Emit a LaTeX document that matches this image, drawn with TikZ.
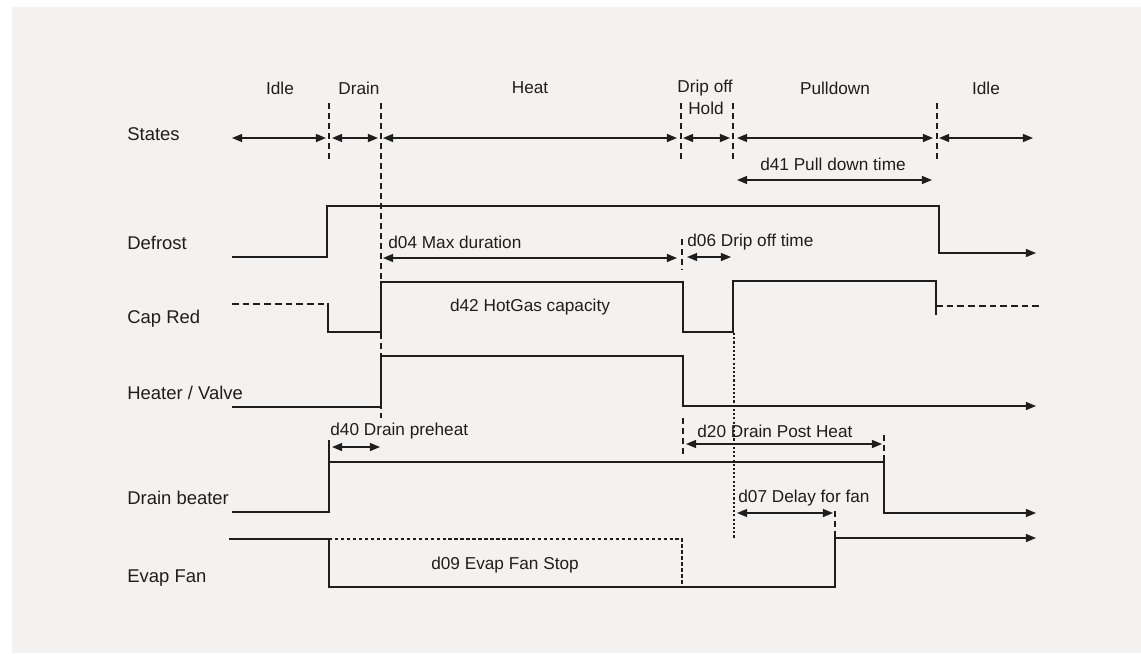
\documentclass[tikz,border=0pt]{standalone}
\usepackage{fontspec}
\setmainfont{Liberation Sans}
\usetikzlibrary{arrows.meta}

\definecolor{panel}{HTML}{F3F2F0}
\definecolor{ink}{HTML}{1E1E1E}

\tikzset{
  sig/.style={ink, line width=0.8pt},
  wave/.style={sig, -{Triangle[length=5.8pt,width=4.6pt]}},
  dimarr/.style={sig, {Triangle[length=5.8pt,width=4.6pt]}-{Triangle[length=5.8pt,width=4.6pt]}},
  sepline/.style={ink, line width=0.8pt, dash pattern=on 3.4pt off 2.3pt},
  fineline/.style={ink, line width=0.7pt, dash pattern=on 1.9pt off 1.5pt},
  lbl/.style={font=\fontsize{9.8}{11}\selectfont, text=ink, inner sep=0pt},
  sname/.style={font=\fontsize{10.5}{12}\selectfont, text=ink, inner sep=0pt, anchor=west},
}

\begin{document}
\begin{tikzpicture}[x=0.02cm, y=-0.02cm]

    \fill[white] (0,0) rectangle (1141,653);
    \fill[panel] (12,7) rectangle (1141,653);
    \useasboundingbox (0,0) rectangle (1141,653);

    % signal names
    \node[sname] (nstates) at (127,134) {States};
    \node[sname] (ndefrost) at (127,243) {Defrost};
    \node[sname] (ncapred) at (127,319) {Cap Red};
    \node[sname] (nheater) at (127,393) {Heater / Valve};
    \node[sname] (ndrain) at (127,498) {Drain beater};
    \node[sname] (nfan) at (127,578) {Evap Fan};

    % states
    \node[lbl] (sidle) at (280,88) {Idle};
    \node[lbl] (sdrain) at (359,88) {Drain};
    \node[lbl] (sheat) at (530,88) {Heat};
    \node[lbl] (sdrip) at (705,88) {Drip off};
    \node[lbl] (shold) at (706,108) {Hold};
    \node[lbl] (spull) at (835,88) {Pulldown};
    \node[lbl] (sidleb) at (986,88) {Idle};

    \draw[sepline] (329,103) -- (329,160);
    \draw[sepline] (381,103) -- (381,418);
    \draw[sepline] (681,103) -- (681,160);
    \draw[sepline] (733,103) -- (733,160);
    \draw[sepline] (937,103) -- (937,160);

    \draw[dimarr] (232,138) -- (326,138);
    \draw[dimarr] (332,138) -- (378,138);
    \draw[dimarr] (383,138) -- (677,138);
    \draw[dimarr] (683,138) -- (730,138);
    \draw[dimarr] (737,138) -- (933,138);
    \draw[dimarr] (939,138) -- (1033,138);

    \node[lbl] (td41) at (833,164) {d41 Pull down time};
    \draw[dimarr] (737,180) -- (932,180);

    % defrost
    \draw[wave] (232,257) -- (327,257) -- (327,206) -- (939,206) -- (939,253) -- (1036,253);
    \node[lbl, anchor=west] (td04) at (388,242) {d04 Max duration};
    \draw[dimarr] (383,258) -- (677,258);
    \draw[sepline] (682,239) -- (682,270);
    \node[lbl, anchor=west] (td06) at (687,242) {d06 Drip off time};
    \draw[dimarr] (687,257) -- (731,257);

    % cap red
    \draw[sig, dash pattern=on 3.8pt off 2.3pt] (232,304) -- (327,304);
    \draw[sig] (328,303) -- (328,332) -- (381,332) -- (381,282) -- (683,282) -- (683,332)
        -- (733,332) -- (733,281) -- (936,281) -- (936,315);
    \draw[sig, dash pattern=on 3.8pt off 2.3pt] (936,306) -- (1040,306);
    \node[lbl] (td42) at (530,307) {d42 HotGas capacity};
    \draw[ink, line width=0.7pt, dash pattern=on 1.2pt off 1.2pt] (734,333) -- (734,538);

    % heater / valve
    \draw[wave] (232,407) -- (381,407) -- (381,356) -- (683,356) -- (683,406) -- (1036,406);
    \draw[sepline] (683,418) -- (683,455);

    % drain heater
    \node[lbl, anchor=west] (td40) at (330,431) {d40 Drain preheat};
    \draw[dimarr] (332,447) -- (380,447);
    \draw[sig] (329,440) -- (329,462);
    \draw[wave] (232,512) -- (329,512) -- (329,462) -- (884,462) -- (884,513) -- (1036,513);
    \node[lbl, anchor=west] (td20) at (697,431) {d20 Drain Post Heat};
    \draw[dimarr] (686,444) -- (882,444);
    \draw[sepline] (884,435) -- (884,462);

    % evap fan
    \node[lbl, anchor=west] (td07) at (738,498) {d07 Delay for fan};
    \draw[dimarr] (737,513) -- (833,513);
    \draw[sepline] (835,511) -- (835,537);
    \draw[wave] (229,539) -- (329,539) -- (329,587) -- (835,587) -- (835,538) -- (1036,538);
    \draw[fineline] (329,539) -- (682,539) -- (682,587);
    \node[lbl] (td09) at (505,565) {d09 Evap Fan Stop};

\end{tikzpicture}
\end{document}
